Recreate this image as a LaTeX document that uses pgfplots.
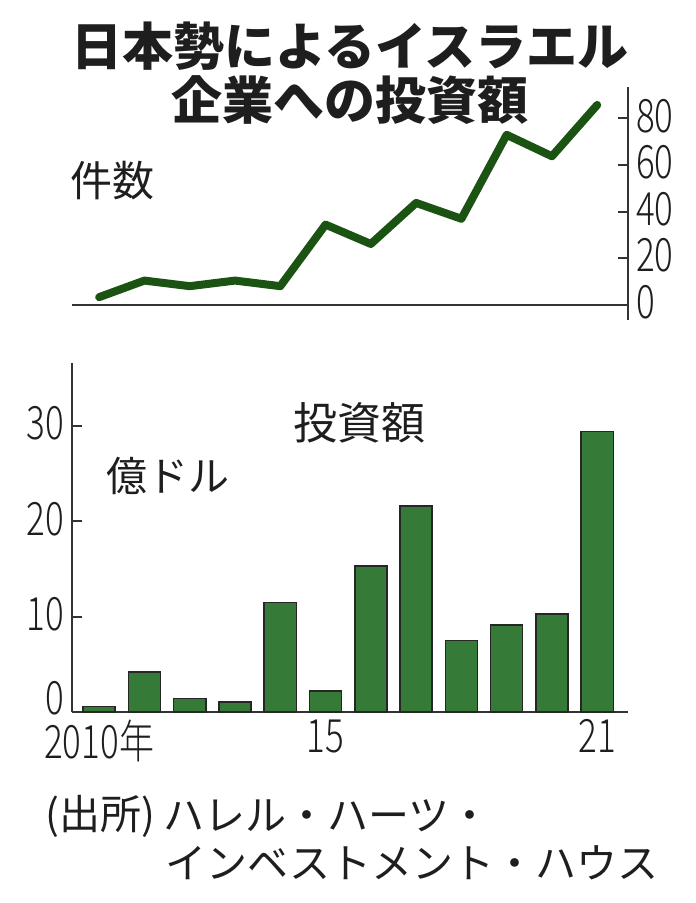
\documentclass[border=0pt]{standalone}
\usepackage{pgfplots}
\pgfplotsset{compat=1.18}
\usepackage{fontspec}
\setmainfont{Noto Sans CJK JP}
\newfontfamily\numfont[FakeStretch=0.76, UprightFont=* Light]{Noto Sans CJK JP}
\definecolor{linegreen}{HTML}{1B5412}
\definecolor{bargreen}{HTML}{367A37}
\definecolor{axisgray}{HTML}{333333}
\definecolor{txt}{HTML}{1E1E1E}
\begin{document}
\begin{tikzpicture}
% ---------- top: number of deals ----------
\begin{axis}[
  at={(72pt,583pt)}, anchor=south west, scale only axis,
  width=556pt, height=233pt,
  xmin=-0.6, xmax=11.68, ymin=-6.5, ymax=93.4,
  axis x line=none, axis y line*=right,
  ytick={0,20,40,60,80},
  tick align=inside, major tick length=10pt,
  y axis line style={axisgray, line width=2pt},
  ytick style={axisgray, line width=2pt},
  /pgf/number format/assume math mode=true,
  yticklabel style={font=\numfont\fontsize{46}{46}\selectfont, text=txt, anchor=west, inner sep=0pt, xshift=8pt, yshift=2.5pt},
  clip=false,
]
\draw[axisgray, line width=2pt] (axis cs:-0.6,0) -- (axis cs:11.68,0);
\addplot[linegreen, line width=8pt, line join=round, line cap=round] coordinates {
(0,3.3) (1,10.4) (2,8.0) (3,10.4) (4,8.0) (5,34.4) (6,26.1) (7,43.7) (8,36.9) (9,72.9) (10,63.7) (11,85.7)
};
\end{axis}
% ---------- bottom: investment amount ----------
\begin{axis}[
  at={(72pt,191pt)}, anchor=south west, scale only axis,
  width=556pt, height=349pt,
  xmin=-0.6, xmax=11.68, ymin=0, ymax=36.6,
  axis x line*=bottom, axis y line*=left,
  xtick={0,5,11}, xticklabels={2010年,15,21},
  ytick={10,20,30},
  extra y ticks={0}, extra y tick labels={0},
  extra y tick style={yticklabel style={yshift=11pt}},
  tick align=inside, major tick length=10pt,
  x axis line style={axisgray, line width=2pt},
  y axis line style={axisgray, line width=2pt},
  ytick style={axisgray, line width=2pt},
  xtick style={draw=none},
  /pgf/number format/assume math mode=true,
  yticklabel style={font=\numfont\fontsize{46}{46}\selectfont, text=txt, anchor=east, inner sep=0pt, xshift=-8pt, yshift=2.5pt},
  xticklabel style={font=\numfont\fontsize{46}{46}\selectfont, text=txt, anchor=north, inner sep=0pt, yshift=-7.5pt},
  clip=false,
]
\addplot[ybar, bar width=0.71, fill=bargreen, draw=black!85, line width=1.5pt] coordinates {
(0,0.6) (1,4.2) (2,1.4) (3,1.05) (4,11.5) (5,2.2) (6,15.3) (7,21.6) (8,7.5) (9,9.1) (10,10.3) (11,29.4)
};
\end{axis}
% ---------- texts ----------
\node[text=txt, font=\bfseries\fontsize{51}{51}\selectfont] at (350pt,857pt) {日本勢によるイスラエル};
\node[text=txt, font=\bfseries\fontsize{51}{51}\selectfont] at (350pt,803pt) {企業への投資額};
\node[text=txt, font=\fontsize{42}{42}\selectfont] at (112pt,722pt) {件数};
\node[text=txt, font=\fontsize{44}{44}\selectfont] at (359pt,480pt) {投資額};
\node[text=txt, font=\fontsize{41}{41}\selectfont] at (168pt,427pt) {億ドル};
\node[text=txt, anchor=west, inner sep=0pt, font=\fontsize{41}{41}\selectfont] at (45pt,87pt) {(出所)};
\node[text=txt, anchor=west, inner sep=0pt, font=\fontsize{41}{41}\selectfont] at (163pt,87pt) {ハレル・ハーツ・};
\node[text=txt, anchor=west, inner sep=0pt, font=\fontsize{41}{41}\selectfont] at (165pt,40pt) {インベストメント・ハウス};
\path (0pt,0pt) rectangle (696pt,903pt);
\end{tikzpicture}
\end{document}
